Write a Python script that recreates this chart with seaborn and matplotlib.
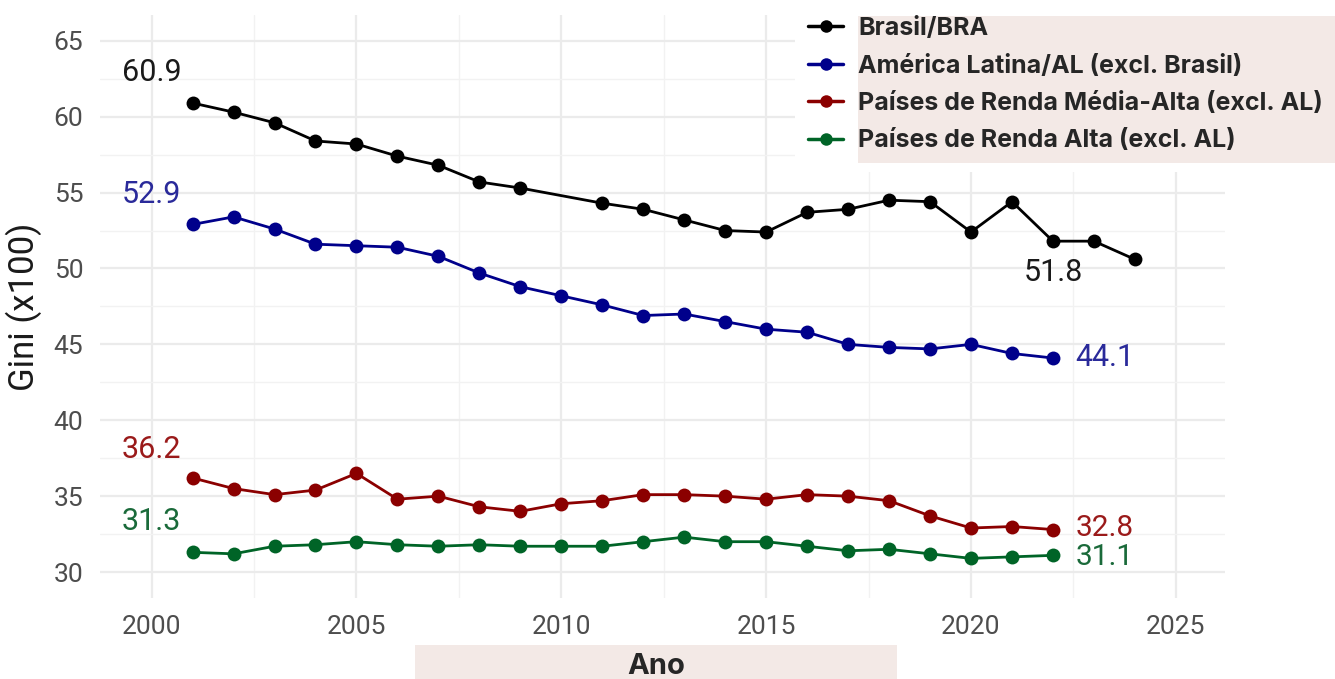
import matplotlib
matplotlib.use("Agg")
import matplotlib.pyplot as plt
from matplotlib.lines import Line2D
from matplotlib.patches import Rectangle
from matplotlib.ticker import MultipleLocator
import pandas as pd
import seaborn as sns

# -----------------------------
# Data (Gini x100)
years_bra = [2001, 2002, 2003, 2004, 2005, 2006, 2007, 2008, 2009,
             2011, 2012, 2013, 2014, 2015, 2016, 2017, 2018, 2019,
             2020, 2021, 2022, 2023, 2024]
gini_bra = [60.9, 60.3, 59.6, 58.4, 58.2, 57.4, 56.8, 55.7, 55.3,
            54.3, 53.9, 53.2, 52.5, 52.4, 53.7, 53.9, 54.5, 54.4,
            52.4, 54.4, 51.8, 51.8, 50.6]

years = list(range(2001, 2023))
gini_al = [52.9, 53.4, 52.6, 51.6, 51.5, 51.4, 50.8, 49.7, 48.8, 48.2, 47.6,
           46.9, 47.0, 46.5, 46.0, 45.8, 45.0, 44.8, 44.7, 45.0, 44.4, 44.1]
gini_uppermid = [36.2, 35.5, 35.1, 35.4, 36.5, 34.8, 35.0, 34.3, 34.0, 34.5, 34.7,
                 35.1, 35.1, 35.0, 34.8, 35.1, 35.0, 34.7, 33.7, 32.9, 33.0, 32.8]
gini_high = [31.3, 31.2, 31.7, 31.8, 32.0, 31.8, 31.7, 31.8, 31.7, 31.7, 31.7,
             32.0, 32.3, 32.0, 32.0, 31.7, 31.4, 31.5, 31.2, 30.9, 31.0, 31.1]

groups = ["Brasil/BRA", "América Latina/AL (excl. Brasil)",
          "Países de Renda Média-Alta (excl. AL)", "Países de Renda Alta (excl. AL)"]
colors = ["#000000", "#00008B", "#8B0000", "#006427"]
label_colors = ["#1a1a1a", "#2a2a9a", "#9a1a1a", "#1a6a3a"]

data = pd.concat([
    pd.DataFrame({"Ano": years_bra, "Gini": gini_bra, "Grupo": groups[0]}),
    pd.DataFrame({"Ano": years, "Gini": gini_al, "Grupo": groups[1]}),
    pd.DataFrame({"Ano": years, "Gini": gini_uppermid, "Grupo": groups[2]}),
    pd.DataFrame({"Ano": years, "Gini": gini_high, "Grupo": groups[3]}),
])

# -----------------------------
# Style
sns.set_style("white")
plt.rcParams["font.family"] = ["Roboto", "DejaVu Sans"]

fig = plt.figure(figsize=(13.35, 6.79), dpi=100)
W, H = 1335, 679
ax = fig.add_axes([100 / W, 1 - 598 / H, 1125 / W, 583 / H])

sns.lineplot(data=data, x="Ano", y="Gini", hue="Grupo", hue_order=groups,
             palette=colors, marker="o", markersize=10, markeredgewidth=0,
             linewidth=2, legend=False, ax=ax)

ax.set_xlim(1998.74, 2026.2)
ax.set_ylim(28.29, 66.7)
ax.xaxis.set_major_locator(MultipleLocator(5))
ax.xaxis.set_minor_locator(MultipleLocator(2.5))
ax.yaxis.set_major_locator(MultipleLocator(5))
ax.yaxis.set_minor_locator(MultipleLocator(2.5))
ax.grid(which="major", color="#EBEBEB", linewidth=1.6)
ax.grid(which="minor", color="#F2F2F2", linewidth=1.0)
ax.set_axisbelow(True)
for s in ax.spines.values():
    s.set_visible(False)
ax.tick_params(which="both", length=0, labelsize=19, labelcolor="#4D4D4D")
ax.tick_params(axis="y", pad=12)
ax.tick_params(axis="x", pad=12)
ax.set_xlabel("")
ax.set_ylabel("Gini (x100)", fontsize=25, color="#1a1a1a", labelpad=8)

# value labels
ax.text(2000, 62.9, "60.9", color=label_colors[0], fontsize=22, ha="center", va="center")
ax.text(2000, 54.85, "52.9", color=label_colors[1], fontsize=22, ha="center", va="center")
ax.text(2000, 38.1, "36.2", color=label_colors[2], fontsize=22, ha="center", va="center")
ax.text(2000, 33.3, "31.3", color=label_colors[3], fontsize=22, ha="center", va="center")
ax.text(2022, 49.75, "51.8", color=label_colors[0], fontsize=22, ha="center", va="center")
ax.text(2022.55, 44.15, "44.1", color=label_colors[1], fontsize=22, ha="left", va="center")
ax.text(2022.55, 32.9, "32.8", color=label_colors[2], fontsize=21.5, ha="left", va="center")
ax.text(2022.55, 31.0, "31.1", color=label_colors[3], fontsize=21.5, ha="left", va="center")

# legend with pink band
fig.add_artist(Rectangle((795 / W, 1 - 172 / H), 540 / W, 172 / H,
                         transform=fig.transFigure, facecolor="white",
                         edgecolor="none", zorder=3))
fig.add_artist(Rectangle((858 / W, 1 - 163 / H), 477 / W, 147 / H,
                         transform=fig.transFigure, facecolor="#F3E9E6",
                         edgecolor="none", zorder=3))
handles = [Line2D([], [], color=c, marker="o", markersize=9, linewidth=2.5,
                  markeredgewidth=0) for c in colors]
leg = fig.legend(handles, groups, loc="upper left",
                 bbox_to_anchor=(808 / W, 1 - 17 / H), frameon=False,
                 prop={"family": "Inter", "weight": "bold", "size": 18},
                 handlelength=1.4, handletextpad=0.6, labelspacing=0.58,
                 borderpad=0, borderaxespad=0)
leg.set_zorder(4)

# x label band
fig.add_artist(Rectangle((415 / W, 0), 482 / W, 34 / H,
                         transform=fig.transFigure, facecolor="#F3E9E6",
                         edgecolor="none", zorder=3))
fig.text(656 / W, 1 - 666 / H, "Ano", ha="center", va="center", fontsize=21,
         fontweight="bold", family="Inter", zorder=4)

fig.savefig("out.png", dpi=100)
